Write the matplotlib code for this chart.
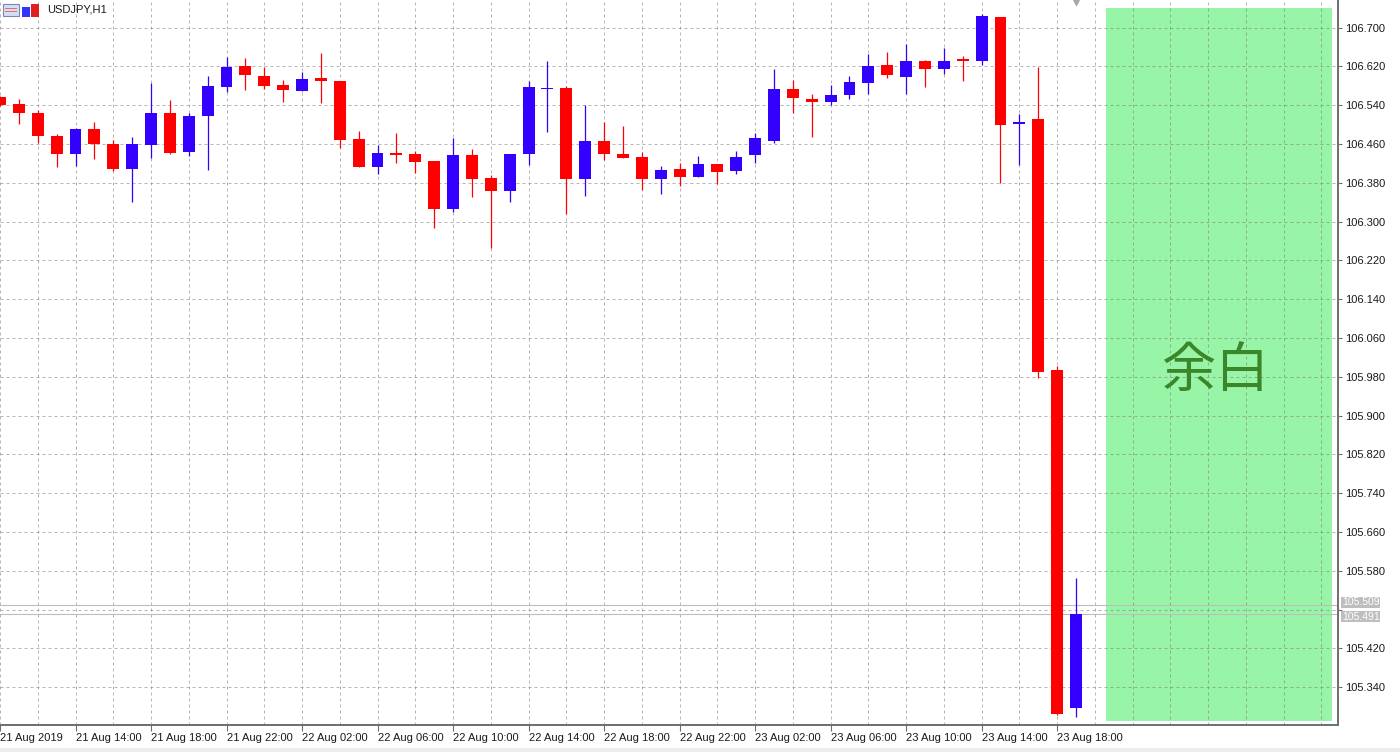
import matplotlib
matplotlib.use('Agg')
import matplotlib.pyplot as plt
import matplotlib.patches as mpatches

plt.rcParams['font.family'] = ['Liberation Sans', 'DejaVu Sans']

# ---------------- data ----------------
symbol_title = "USDJPY,H1"

opens = [106.556, 106.542, 106.525, 106.477, 106.439, 106.491, 106.461, 106.408, 106.458, 106.525,
         106.443, 106.517, 106.578, 106.620, 106.601, 106.581, 106.569, 106.597, 106.590, 106.470,
         106.412, 106.441, 106.439, 106.425, 106.327, 106.437, 106.389, 106.364, 106.439, 106.573,
         106.575, 106.388, 106.467, 106.440, 106.433, 106.388, 106.408, 106.392, 106.419, 106.405,
         106.437, 106.466, 106.573, 106.553, 106.547, 106.561, 106.586, 106.623, 106.599, 106.632,
         106.614, 106.633, 106.631, 106.722, 106.501, 106.511, 105.995, 105.298]
highs = [106.560, 106.552, 106.530, 106.480, 106.493, 106.505, 106.468, 106.475, 106.585, 106.551,
         106.523, 106.601, 106.640, 106.637, 106.619, 106.593, 106.609, 106.648, 106.590, 106.487,
         106.458, 106.482, 106.446, 106.425, 106.473, 106.450, 106.397, 106.440, 106.590, 106.631,
         106.579, 106.540, 106.506, 106.497, 106.444, 106.414, 106.420, 106.436, 106.419, 106.445,
         106.482, 106.614, 106.592, 106.564, 106.581, 106.600, 106.645, 106.650, 106.667, 106.633,
         106.657, 106.641, 106.729, 106.722, 106.521, 106.619, 106.002, 105.566]
lows = [106.538, 106.502, 106.462, 106.413, 106.415, 106.429, 106.405, 106.341, 106.432, 106.440,
        106.436, 106.406, 106.568, 106.571, 106.573, 106.547, 106.569, 106.544, 106.451, 106.412,
        106.398, 106.420, 106.401, 106.286, 106.320, 106.351, 106.246, 106.341, 106.416, 106.485,
        106.315, 106.353, 106.427, 106.431, 106.365, 106.356, 106.373, 106.391, 106.377, 106.398,
        106.421, 106.462, 106.523, 106.475, 106.540, 106.553, 106.563, 106.597, 106.563, 106.578,
        106.604, 106.590, 106.623, 106.379, 106.416, 105.977, 105.283, 105.278]
closes = [106.541, 106.524, 106.476, 106.439, 106.492, 106.461, 106.408, 106.460, 106.525, 106.441,
          106.518, 106.579, 106.618, 106.602, 106.580, 106.571, 106.594, 106.590, 106.468, 106.413,
          106.441, 106.437, 106.422, 106.327, 106.437, 106.388, 106.364, 106.440, 106.577, 106.575,
          106.388, 106.467, 106.439, 106.432, 106.388, 106.406, 106.392, 106.419, 106.403, 106.433,
          106.473, 106.573, 106.554, 106.547, 106.562, 106.587, 106.620, 106.602, 106.632, 106.614,
          106.632, 106.631, 106.725, 106.500, 106.505, 105.990, 105.285, 105.491]

x_tick_labels = ["21 Aug 2019", "21 Aug 14:00", "21 Aug 18:00", "21 Aug 22:00",
                 "22 Aug 02:00", "22 Aug 06:00", "22 Aug 10:00", "22 Aug 14:00",
                 "22 Aug 18:00", "22 Aug 22:00", "23 Aug 02:00", "23 Aug 06:00",
                 "23 Aug 10:00", "23 Aug 14:00", "23 Aug 18:00"]
x_tick_step = 4          # one label every 4 bars (hours)
x_grid_step = 2          # vertical grid every 2 bars

y_tick_values = [105.340, 105.420, 105.500, 105.580, 105.660, 105.740, 105.820, 105.900,
                 105.980, 106.060, 106.140, 106.220, 106.300, 106.380, 106.460, 106.540,
                 106.620, 106.700]
hidden_y_label = 105.500   # covered by the bid/ask price tags in the original

bid_price = 105.491
ask_price = 105.509

margin_bars = (58.6, 70.56)        # empty right-margin zone (bar index units)
margin_prices = (105.270, 106.740)
margin_label = "余白"

x_range = (0.085, 70.88)
y_range = (105.262, 106.757)

# ---------------- figure ----------------
W, H = 1400, 752
fig = plt.figure(figsize=(W / 100, H / 100), dpi=100)
fig.patch.set_facecolor('white')
ax = fig.add_axes([0, 27 / H, 1338 / W, 725 / H])
ax.set_facecolor('white')
ax.set_xlim(*x_range)
ax.set_ylim(*y_range)

# margin zone
ax.add_patch(mpatches.Rectangle((margin_bars[0], margin_prices[0]),
                                margin_bars[1] - margin_bars[0],
                                margin_prices[1] - margin_prices[0],
                                facecolor='#98F5A8', edgecolor='none', zorder=0.5))

# grid
grid_kw = dict(color='#7A7A7A', alpha=0.55, lw=0.72, ls=(0, (3, 3)), zorder=1)
for v in y_tick_values:
    ax.axhline(v, **grid_kw)
n_bars = len(opens)
for i in range(0, int(x_range[1]) + 1, x_grid_step):
    ax.axvline(i, **grid_kw)

# bid / ask lines
ax.axhline(ask_price, color='#BDBDBD', lw=0.8, zorder=2)
ax.axhline(bid_price, color='#BDBDBD', lw=0.8, zorder=2)

# candles
up_col, dn_col = '#3300FF', '#FF0000'
idx = list(range(n_bars))
cols = [up_col if c >= o else dn_col for o, c in zip(opens, closes)]
ax.vlines(idx, lows, highs, colors=cols, lw=0.9, zorder=3)
bottoms = [min(o, c) for o, c in zip(opens, closes)]
heights = [max(abs(c - o), 0.0035) for o, c in zip(opens, closes)]
ax.bar(idx, heights, bottom=bottoms, width=0.63, color=cols, edgecolor='none', zorder=3.5)

# margin label
ax.annotate(margin_label,
            xy=((margin_bars[0] + margin_bars[1]) / 2, (margin_prices[0] + margin_prices[1]) / 2),
            xytext=(-4, -7), textcoords='offset pixels',
            ha='center', va='center', fontsize=39, color='#3B8629', fontweight='normal',
            family=['Noto Sans CJK JP', 'DejaVu Sans'], zorder=4)

# shift marker at top
ax.plot([n_bars - 1], [y_range[1]], marker='v', color='#A8A8A8', markersize=7,
        clip_on=False, zorder=5)

# axes styling
for s in ['left', 'top']:
    ax.spines[s].set_visible(False)
for s in ['right', 'bottom']:
    ax.spines[s].set_color('#6E6E6E')
    ax.spines[s].set_linewidth(1.4)

ax.yaxis.tick_right()
ax.set_yticks(y_tick_values)
ax.set_yticklabels(["" if abs(v - hidden_y_label) < 1e-9 else f"{v:.3f}" for v in y_tick_values])
ax.tick_params(axis='y', direction='out', length=3, width=0.8, color='#6E6E6E',
               pad=2, labelsize=8, labelcolor='#1A1A1A')

xt = [k * x_tick_step for k in range(len(x_tick_labels))]
ax.set_xticks(xt)
ax.set_xticklabels(x_tick_labels, ha='left')
ax.tick_params(axis='x', direction='out', length=4, width=0.8, color='#6E6E6E',
               pad=2, labelsize=8, labelcolor='#1A1A1A')

# bid/ask price labels (nudged apart slightly so they stay legible)
for price, dy in ((ask_price, 3), (bid_price, -3)):
    ax.annotate(f"{price:.3f}", xy=(1, price), xycoords=('axes fraction', 'data'),
                xytext=(4, dy), textcoords='offset pixels', ha='left', va='center',
                fontsize=7.5, color='white', annotation_clip=False, zorder=6,
                bbox=dict(boxstyle='square,pad=0.05', fc='#BEBEBE', ec='none'))

# title and icon
def fig_rect(x, y, w, h, **kw):
    fig.add_artist(mpatches.Rectangle((x / W, 1 - (y + h) / H), w / W, h / H,
                                      transform=fig.transFigure, **kw))

fig_rect(3, 4, 16, 12, facecolor='#D6DEF5', edgecolor='#7A86B8', lw=0.8)
fig_rect(5, 8, 12, 1.2, facecolor='#E07070', edgecolor='none')
fig_rect(5, 11, 12, 1.2, facecolor='#E07070', edgecolor='none')
fig_rect(22, 7, 8, 10, facecolor='#3333FF', edgecolor='none')
fig_rect(31, 4, 8, 13, facecolor='#E02020', edgecolor='none')
fig.text(47 / W, 1 - 10 / H, symbol_title, ha='left', va='center', fontsize=8, color='#1A1A1A')

# bottom window strip
fig_rect(0, 748, W, 4, facecolor='#EDEDED', edgecolor='none')

fig.savefig('out.png', dpi=100)
